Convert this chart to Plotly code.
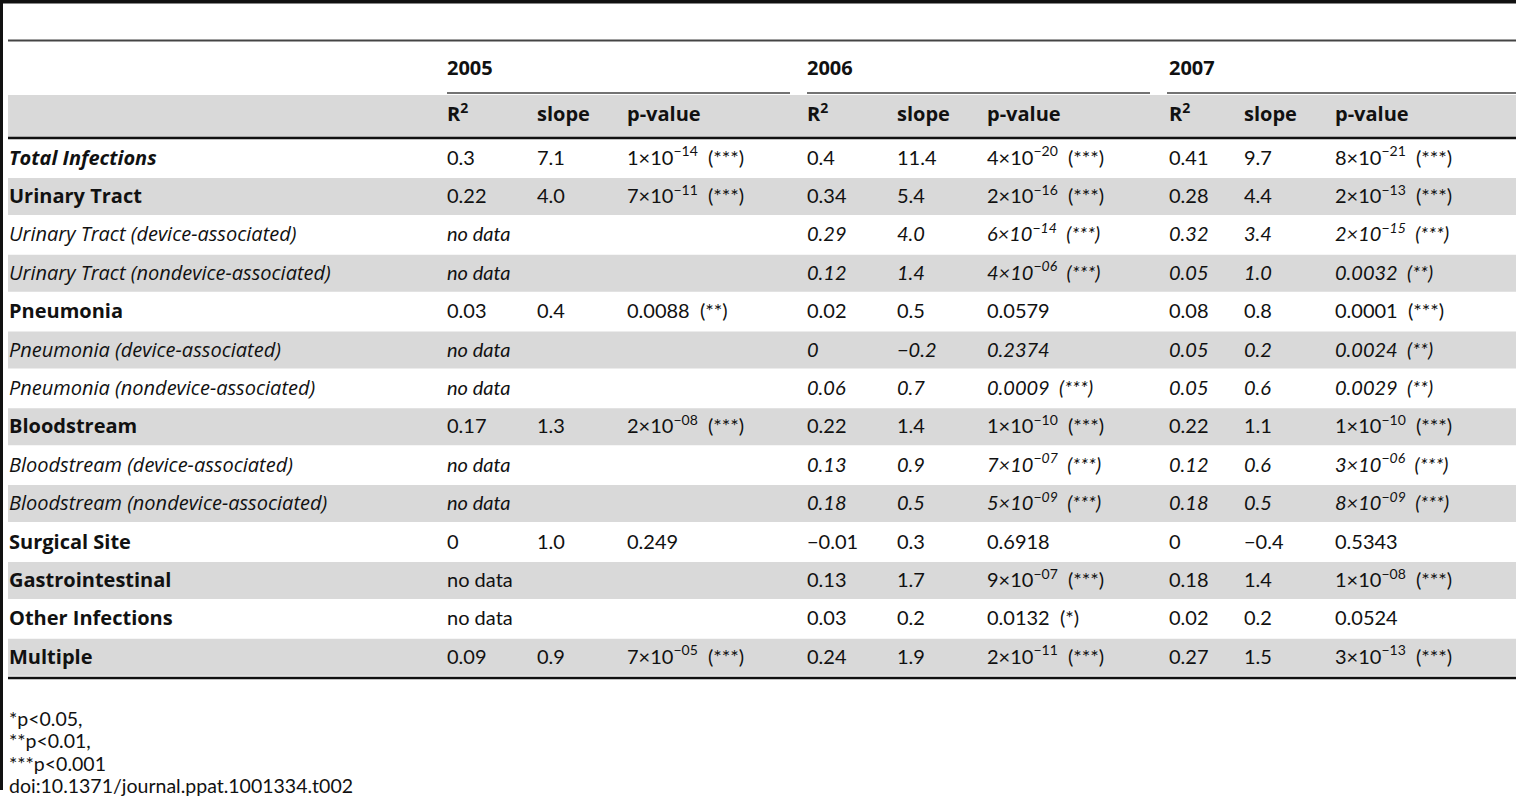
import plotly.graph_objects as go

# table data
row_labels = [
    "Total Infections", "Urinary Tract", "Urinary Tract (device-associated)",
    "Urinary Tract (nondevice-associated)", "Pneumonia", "Pneumonia (device-associated)",
    "Pneumonia (nondevice-associated)", "Bloodstream", "Bloodstream (device-associated)",
    "Bloodstream (nondevice-associated)", "Surgical Site", "Gastrointestinal",
    "Other Infections", "Multiple",
]
# 'bi' bold italic, 'b' bold, 'i' italic sub-row
row_kind = ["bi", "b", "i", "i", "b", "i", "i", "b", "i", "i", "b", "b", "b", "b"]

years = ["2005", "2006", "2007"]
sub_cols = ["R<sup>2</sup>", "slope", "p-value"]

r2_2005 = [0.3, 0.22, None, None, 0.03, None, None, 0.17, None, None, 0, None, None, 0.09]
slope_2005 = [7.1, 4.0, None, None, 0.4, None, None, 1.3, None, None, 1.0, None, None, 0.9]
p_2005 = [1e-14, 7e-11, None, None, 0.0088, None, None, 2e-08, None, None, 0.249, None, None, 7e-05]

r2_2006 = [0.4, 0.34, 0.29, 0.12, 0.02, 0, 0.06, 0.22, 0.13, 0.18, -0.01, 0.13, 0.03, 0.24]
slope_2006 = [11.4, 5.4, 4.0, 1.4, 0.5, -0.2, 0.7, 1.4, 0.9, 0.5, 0.3, 1.7, 0.2, 1.9]
p_2006 = [4e-20, 2e-16, 6e-14, 4e-06, 0.0579, 0.2374, 0.0009, 1e-10, 7e-07, 5e-09,
          0.6918, 9e-07, 0.0132, 2e-11]

r2_2007 = [0.41, 0.28, 0.32, 0.05, 0.08, 0.05, 0.05, 0.22, 0.12, 0.18, 0, 0.18, 0.02, 0.27]
slope_2007 = [9.7, 4.4, 3.4, 1.0, 0.8, 0.2, 0.6, 1.1, 0.6, 0.5, -0.4, 1.4, 0.2, 1.5]
p_2007 = [8e-21, 2e-13, 2e-15, 0.0032, 0.0001, 0.0024, 0.0029, 1e-10, 3e-06, 8e-09,
          0.5343, 1e-08, 0.0524, 3e-13]

footnotes = ["*p&lt;0.05,", "**p&lt;0.01,", "***p&lt;0.001", "doi:10.1371/journal.ppat.1001334.t002"]

# layout (pixel coords)
W, H = 1516, 800
LABEL_FONT = "Open Sans"
DATA_FONT = "Lato"
GRAY = "#d9d9d9"
row_y0 = 159.5
row_h = 38.4
label_x = 9
col_x = [[447, 537, 627], [807, 897, 987], [1169, 1244, 1335]]
year_line = [(447, 790), (807, 1150), (1167, 1516)]


def num(v):
    return str(v).replace("-", "−")


def pval(p):
    if p < 1e-4:
        m, e = f"{p:.0e}".split("e")
        s = f"{m}×10<sup>{e.replace('-', '−')}</sup>"
    else:
        s = str(p)
    stars = "***" if p < 0.001 else "**" if p < 0.01 else "*" if p < 0.05 else ""
    if stars:
        s += f"  ({stars})"
    return s


def wrap(s, kind):
    if kind == "i":
        return f"<i>{s}</i>"
    return s


fig = go.Figure()
shapes = []

# gray bands
shapes.append(dict(type="rect", x0=8, x1=W, y0=95, y1=137, fillcolor=GRAY, line_width=0, layer="below"))
for i in range(len(row_labels)):
    if i % 2 == 1:
        yc = 158 + i * row_h
        shapes.append(dict(type="rect", x0=8, x1=W, y0=yc - 18.5, y1=yc + 18.5,
                           fillcolor=GRAY, line_width=0, layer="below"))

# rules
shapes += [
    dict(type="line", x0=0, x1=W, y0=1.5, y1=1.5, line=dict(color="#111", width=4)),
    dict(type="line", x0=1.5, x1=1.5, y0=0, y1=790, line=dict(color="#111", width=3)),
    dict(type="line", x0=8, x1=W, y0=40.5, y1=40.5, line=dict(color="#444", width=2)),
    dict(type="line", x0=8, x1=W, y0=138, y1=138, line=dict(color="#111", width=2.5)),
    dict(type="line", x0=8, x1=W, y0=678, y1=678, line=dict(color="#111", width=2.5)),
]
for a, b in year_line:
    shapes.append(dict(type="line", x0=a, x1=b, y0=93, y1=93, line=dict(color="#444", width=1.5)))

# header
hx, hy, ht = [], [], []
for j, yr in enumerate(years):
    hx.append(col_x[j][0]); hy.append(70); ht.append(f"<b>{yr}</b>")
    for k, c in enumerate(sub_cols):
        hx.append(col_x[j][k]); hy.append(116); ht.append(f"<b>{c}</b>")

# body
lx, ly, lt = [], [], []
xs, ys, ts = [], [], []
year_data = [(r2_2005, slope_2005, p_2005), (r2_2006, slope_2006, p_2006), (r2_2007, slope_2007, p_2007)]
for i, lab in enumerate(row_labels):
    y = row_y0 + i * row_h
    kind = row_kind[i]
    if kind == "bi":
        t = f"<b><i>{lab}</i></b>"
    elif kind == "b":
        t = f"<b>{lab}</b>"
    else:
        t = f"<i>{lab}</i>"
    lx.append(label_x); ly.append(y); lt.append(t)
    for j, (r2, sl, pv) in enumerate(year_data):
        if r2[i] is None:
            xs.append(col_x[j][0]); ys.append(y); ts.append(wrap("no data", kind))
            continue
        for k, s in enumerate([num(r2[i]), num(sl[i]), pval(pv[i])]):
            xs.append(col_x[j][k]); ys.append(y); ts.append(wrap(s, kind))

fig.add_trace(go.Scatter(
    x=hx, y=hy, text=ht, mode="text", textposition="middle right",
    textfont=dict(family=LABEL_FONT, size=20, color="#111"), hoverinfo="skip", showlegend=False,
))
fig.add_trace(go.Scatter(
    x=lx, y=ly, text=lt, mode="text", textposition="middle right",
    textfont=dict(family=LABEL_FONT, size=20, color="#111"), hoverinfo="skip", showlegend=False,
))
fig.add_trace(go.Scatter(
    x=xs, y=ys, text=ts, mode="text", textposition="middle right",
    textfont=dict(family=DATA_FONT, size=20, color="#111"), hoverinfo="skip", showlegend=False,
))

# footnotes
fig.add_trace(go.Scatter(
    x=[label_x] * len(footnotes), y=[721, 743.5, 766, 788], text=footnotes,
    mode="text", textposition="middle right",
    textfont=dict(family=DATA_FONT, size=19.5, color="#111"), hoverinfo="skip", showlegend=False,
))

fig.update_layout(
    width=W, height=H, margin=dict(l=0, r=0, t=0, b=0),
    paper_bgcolor="white", plot_bgcolor="white", shapes=shapes,
    xaxis=dict(range=[0, W], visible=False, fixedrange=True),
    yaxis=dict(range=[H, 0], visible=False, fixedrange=True),
)

fig.write_html("out.html", config={"displayModeBar": False},
               post_script="document.body.style.margin='0';")
